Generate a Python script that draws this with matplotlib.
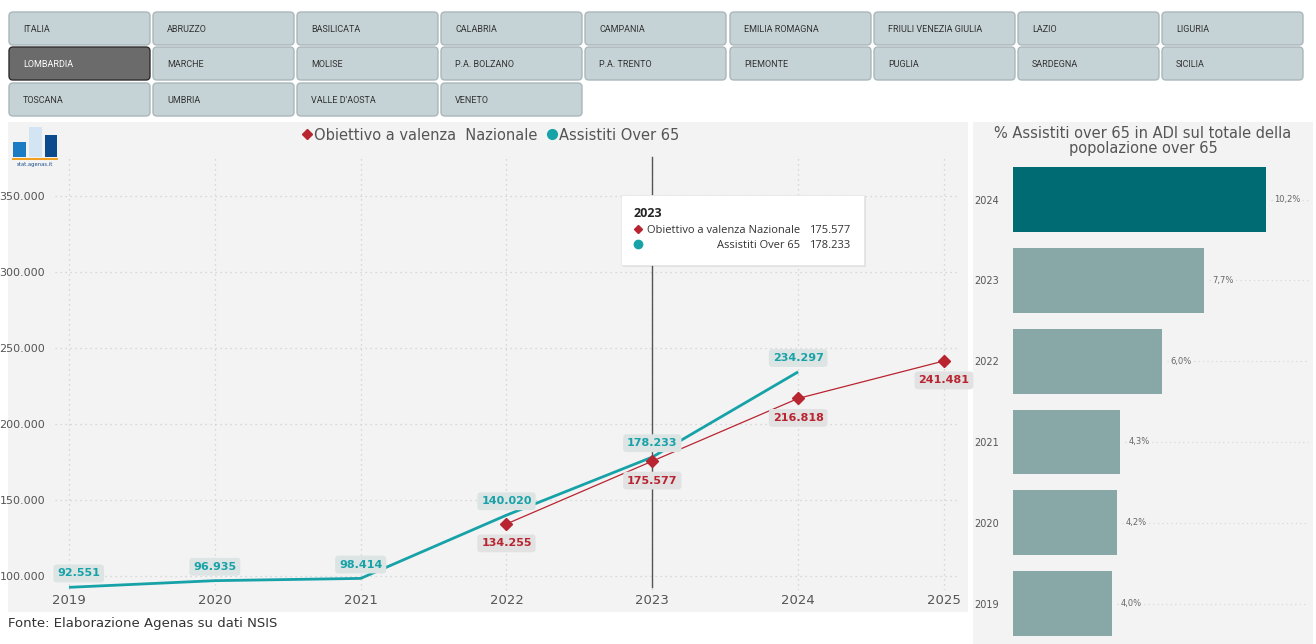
import numpy as np
import matplotlib.pyplot as plt
from matplotlib.patches import FancyBboxPatch, Rectangle
from matplotlib.lines import Line2D

# Data
regions = ["ITALIA", "ABRUZZO", "BASILICATA", "CALABRIA", "CAMPANIA", "EMILIA ROMAGNA",
           "FRIULI VENEZIA GIULIA", "LAZIO", "LIGURIA",
           "LOMBARDIA", "MARCHE", "MOLISE", "P.A. BOLZANO", "P.A. TRENTO", "PIEMONTE",
           "PUGLIA", "SARDEGNA", "SICILIA",
           "TOSCANA", "UMBRIA", "VALLE D'AOSTA", "VENETO"]
selected_region = "LOMBARDIA"

years_assistiti = [2019, 2020, 2021, 2022, 2023, 2024]
assistiti = [92551, 96935, 98414, 140020, 178233, 234297]
years_obiettivo = [2022, 2023, 2024, 2025]
obiettivo = [134255, 175577, 216818, 241481]
hover_year = 2023

bar_years = ["2019", "2020", "2021", "2022", "2023", "2024"]
bar_pct = [4.0, 4.2, 4.3, 6.0, 7.7, 10.2]

y_ticks = [100000, 150000, 200000, 250000, 300000, 350000]
x_years = [2019, 2020, 2021, 2022, 2023, 2024, 2025]

# Colours
TEAL = '#17a2a8'
RED = '#b82430'
GRID = '#cfcfcf'
TXT = '#555555'
BG = '#f3f3f3'


def fmt(v):
    return f"{v:,}".replace(",", ".")


W, H = 1316, 644
fig = plt.figure(figsize=(W / 100, H / 100), dpi=100)
fig.patch.set_facecolor('white')
plt.rcParams['font.family'] = ['DejaVu Sans']


def px_axes(x0, y0, x1, y1, **kw):
    # axes from pixel box (top-left origin)
    return fig.add_axes([x0 / W, 1 - y1 / H, (x1 - x0) / W, (y1 - y0) / H], **kw)


# background overlay
bg = fig.add_axes([0, 0, 1, 1], zorder=0)
bg.set_xlim(0, W)
bg.set_ylim(H, 0)
bg.axis('off')

bg.add_patch(Rectangle((8, 122), 960, 490, facecolor=BG, edgecolor='none'))
bg.add_patch(Rectangle((973, 122), 340, 522, facecolor=BG, edgecolor='none'))

# region buttons
col_x = [9, 153, 297, 441, 585, 730, 874, 1018, 1162]
row_y = [12, 47, 83]
for i, name in enumerate(regions):
    r, c = divmod(i, 9)
    x0, y0 = col_x[c], row_y[r]
    sel = name == selected_region
    bg.add_patch(FancyBboxPatch((x0 + 2, y0 + 2), 137, 29,
                                boxstyle="round,pad=2,rounding_size=4",
                                facecolor='#6b6b6b' if sel else '#c5d3d6',
                                edgecolor='#2e2e2e' if sel else '#aab7ba', lw=1))
    bg.text(x0 + 14, y0 + 17, name, fontsize=6.5, va='center', ha='left',
            color='white' if sel else '#333333', family='Roboto')

# logo
bg.add_patch(Rectangle((13, 142), 13, 15, facecolor='#1b7cc4'))
bg.add_patch(Rectangle((29, 127), 13, 30, facecolor='#d3e4f3'))
bg.add_patch(Rectangle((45, 135), 12, 22, facecolor='#0b4a8c'))
bg.add_patch(Rectangle((12, 158), 46, 2, facecolor='#f0a020'))
bg.text(35, 164, "stat.agenas.it", fontsize=3.8, ha='center', va='center', color='#1b4e8c')

bg.text(8, 624, "Fonte: Elaborazione Agenas su dati NSIS", fontsize=9.5, color='#333333',
        va='center', ha='left')

bg.text(1143, 141, "% Assistiti over 65 in ADI sul totale della\npopolazione over 65",
        fontsize=10.5, color=TXT, ha='center', va='center', linespacing=1.05)

# line chart
ax = px_axes(55, 155, 960, 590, zorder=2)
ax.set_facecolor('none')
ax.plot(years_assistiti, assistiti, color=TEAL, lw=2, zorder=3, solid_capstyle='butt')
ax.plot(years_obiettivo, obiettivo, color=RED, lw=0.9, marker='D', ms=6.5, zorder=4)
ax.axvline(hover_year, ymin=0.007, ymax=0.995, color='#555555', lw=1, zorder=2)

ax.set_xlim(2018.904, 2025.11)
ax.set_ylim(90790, 376974)
ax.set_xticks(x_years)
ax.set_xticklabels([str(y) for y in x_years], fontsize=9.5, color=TXT)
ax.set_yticks(y_ticks)
ax.set_yticklabels([fmt(v) for v in y_ticks], fontsize=8, color=TXT)
ax.tick_params(length=0)
ax.tick_params(axis='y', pad=7)
ax.tick_params(axis='x', pad=3)
for s in ax.spines.values():
    s.set_visible(False)
ax.grid(True, color=GRID, linestyle=(0, (1, 3)), lw=0.9)
ax.set_axisbelow(True)

for i, (x, v) in enumerate(zip(years_assistiti, assistiti)):
    ax.annotate(fmt(v), (x, v), xytext=(7 if i == 0 else 0, 10), textcoords='offset points',
                ha='center', va='center', fontsize=8, fontweight='bold', color=TEAL, zorder=6,
                bbox=dict(boxstyle='round,pad=0.35,rounding_size=0.3', fc='#dde4e4', ec='none'))
for x, v in zip(years_obiettivo, obiettivo):
    ax.annotate(fmt(v), (x, v), xytext=(0, -14), textcoords='offset points',
                ha='center', va='center', fontsize=8, fontweight='bold', color=RED, zorder=6,
                bbox=dict(boxstyle='round,pad=0.35,rounding_size=0.3', fc='#e2e2e2', ec='none'))

handles = [Line2D([], [], marker='D', color=RED, ls='none', ms=5.5),
           Line2D([], [], marker='o', color=TEAL, ls='none', ms=7)]
fig.legend(handles, ["Obiettivo a valenza  Nazionale", "Assistiti Over 65"],
           loc='center', bbox_to_anchor=(490 / W, 1 - 135 / H), ncol=2, frameon=False,
           fontsize=10.5, labelcolor=TXT, handletextpad=0.1, columnspacing=0.6,
           handlelength=0.8)

# bar chart
bx = px_axes(1013, 160, 1310, 644, zorder=2)
bx.set_facecolor('none')
ypos = np.arange(len(bar_years))
colors = ['#88a8a8'] * (len(bar_years) - 1) + ['#006b72']
bx.barh(ypos, bar_pct, height=0.8, color=colors, zorder=3)
bx.set_xlim(0, 11.98)
bx.set_ylim(-0.5, 5.49)
bx.set_yticks(ypos)
bx.set_yticklabels(bar_years, fontsize=7, color=TXT)
bx.tick_params(length=0, axis='y', pad=10)
bx.set_xticks([])
for s in bx.spines.values():
    s.set_visible(False)
for y, v in zip(ypos, bar_pct):
    bx.hlines(y, v + 0.2, 11.9, color='#d5d5d5', linestyle=(0, (1, 3)), lw=0.8, zorder=1)
    bx.text(v + 0.35, y, f"{v:.1f}%".replace(".", ","), fontsize=6, color='#666666',
            ha='left', va='center', zorder=4,
            bbox=dict(boxstyle='square,pad=0.15', fc=BG, ec='none'))

# tooltip
fg = fig.add_axes([0, 0, 1, 1], zorder=10)
fg.set_xlim(0, W)
fg.set_ylim(H, 0)
fg.axis('off')
fg.set_facecolor('none')
fg.add_patch(FancyBboxPatch((623, 197), 243, 70, boxstyle="square,pad=0",
                            facecolor='#00000012', edgecolor='none'))
fg.add_patch(FancyBboxPatch((621, 195), 243, 70, boxstyle="square,pad=0",
                            facecolor='white', edgecolor='#e6e6e6', lw=0.6))
fg.text(634, 213, str(hover_year), fontsize=9, fontweight='bold', color='#252525',
        ha='left', va='center', family='Open Sans')
hi = years_obiettivo.index(hover_year)
ha_i = years_assistiti.index(hover_year)
fg.plot(638, 229, marker='D', ms=4.5, color=RED)
fg.plot(638, 244, marker='o', ms=6, color=TEAL)
fg.text(800, 230, "Obiettivo a valenza Nazionale", fontsize=8, color='#333333',
        ha='right', va='center', family='Open Sans')
fg.text(800, 245, "Assistiti Over 65", fontsize=8, color='#333333',
        ha='right', va='center', family='Open Sans')
fg.text(850, 230, fmt(obiettivo[hi]), fontsize=8, color='#333333', ha='right', va='center',
        family='Open Sans')
fg.text(850, 245, fmt(assistiti[ha_i]), fontsize=8, color='#333333', ha='right', va='center',
        family='Open Sans')

fig.savefig("out.png", dpi=100, facecolor='white')
